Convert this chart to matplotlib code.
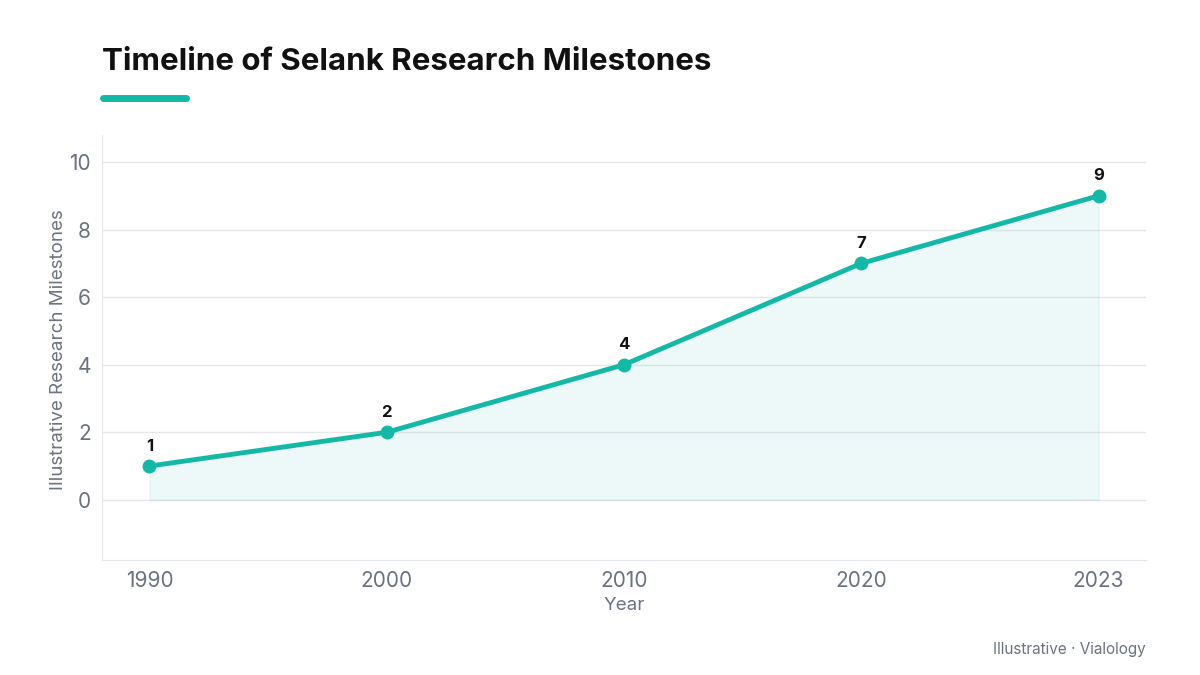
import matplotlib
matplotlib.use("Agg")
import matplotlib.pyplot as plt
from matplotlib.lines import Line2D

years = ["1990", "2000", "2010", "2020", "2023"]
milestones = [1, 2, 4, 7, 9]
yticks = [0, 2, 4, 6, 8, 10]

teal = "#14b8a6"
grey = "#6b7280"

plt.rcParams['font.family'] = ['Inter', 'DejaVu Sans']

fig = plt.figure(figsize=(12, 6.75), dpi=100)
ax = fig.add_axes([0.085, 0.1704, 0.87, 0.6296])

x = list(range(len(years)))
ax.fill_between(x, milestones, 0, color=teal, alpha=0.08, linewidth=1, edgecolor=(0.08, 0.72, 0.65, 0.15))
ax.plot(x, milestones, color=teal, lw=3.5, marker="o", ms=9, zorder=3)
for xi, v in zip(x, milestones):
    ax.annotate(str(v), (xi, v), xytext=(0, 9), textcoords="offset points",
                ha="center", va="bottom", fontsize=12, fontweight="bold", color="#111111")

ax.set_xlim(-0.2, 4.2)
ax.set_ylim(-1.78, 10.8)
ax.set_xticks(x)
ax.set_xticklabels(years)
ax.set_yticks(yticks)
ax.tick_params(length=0, labelsize=15, colors=grey, pad=8)
ax.grid(axis="y", color="#e5e7eb", lw=1)
ax.set_axisbelow(True)
for s in ["top", "right"]:
    ax.spines[s].set_visible(False)
for s in ["left", "bottom"]:
    ax.spines[s].set_color("#e5e7eb")
ax.set_xlabel("Year", fontsize=13.5, color=grey, labelpad=4)
ax.set_ylabel("Illustrative Research Milestones", fontsize=13.5, color=grey)
ax.yaxis.set_label_coords(-0.034, 0.494)

fig.text(0.085, 0.908, "Timeline of Selank Research Milestones", fontsize=22.5,
         fontweight="bold", color="#111111", va="center")
fig.add_artist(Line2D([0.0855, 0.155], [0.855, 0.855], color=teal, lw=5,
                      solid_capstyle="round", transform=fig.transFigure))
fig.text(0.955, 0.038, "Illustrative · Vialology", fontsize=11, color=grey,
         ha="right", va="center")

fig.savefig("out.png", dpi=100)
